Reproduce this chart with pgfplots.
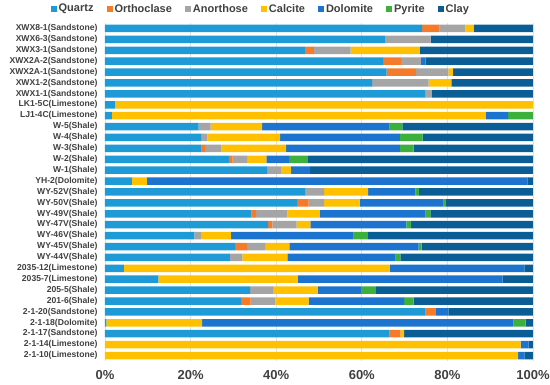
\documentclass[border=0pt]{standalone}
\usepackage{fontspec}
\setmainfont{Liberation Sans}
\usepackage{pgfplots}
\usepackage{pgfplotstable}
\pgfplotsset{compat=1.18}
\definecolor{cQ}{HTML}{1E9BD7}
\definecolor{cO}{HTML}{F47B2A}
\definecolor{cA}{HTML}{A5A5A5}
\definecolor{cC}{HTML}{FFC000}
\definecolor{cD}{HTML}{1C74CF}
\definecolor{cP}{HTML}{3CAF3C}
\definecolor{cL}{HTML}{0B5D96}
\definecolor{txt}{HTML}{404040}
\pgfplotstableread{
idx Q O A C D P L
0 74.1 4.1 6.0 2.0 0 0 13.8
1 65.4 0 10.7 0 0 0 23.9
2 46.7 2.1 8.6 16.1 0 0 26.5
3 65.0 4.2 4.6 0 1.1 0 25.1
4 65.8 6.9 7.5 1.1 0 0 18.7
5 62.4 0 13.2 5.3 0 0 19.1
6 74.9 0 1.5 0 0 0 23.6
7 2.3 0 0 97.7 0 0 0
8 1.6 0 0 87.4 5.2 5.8 0
9 21.9 0 2.8 12.0 29.8 3.0 30.5
10 22.6 0 1.3 17.0 28.0 5.3 25.8
11 22.6 0.8 3.8 15.1 26.6 3.2 27.9
12 29.0 0.8 3.4 4.5 5.3 4.4 52.6
13 37.9 0 3.2 2.3 4.5 0 52.1
14 6.3 0 0 3.5 88.9 0 1.3
15 46.9 0 4.3 10.3 11.0 0.9 26.6
16 44.9 2.7 3.6 8.3 19.6 0.4 20.5
17 34.2 1.1 7.3 7.6 24.7 1.1 24.0
18 38.1 1.0 5.7 3.2 22.4 1.1 28.5
19 20.9 0 1.7 6.8 28.7 3.3 38.6
20 30.4 2.8 4.2 5.7 30.2 0.7 26.0
21 29.2 0 2.9 10.5 25.3 1.1 31.0
22 4.4 0 0 62.1 31.5 0 2.0
23 12.5 0 0 32.5 47.9 0 7.1
24 33.9 0 5.4 10.4 10.1 3.5 36.7
25 31.8 2.2 5.8 7.8 22.3 2.2 27.9
26 74.9 2.3 0 0 3.0 0 19.8
27 0.3 0 0 22.4 72.7 2.9 1.7
28 66.5 2.5 0 0.9 0 0 30.1
29 0 0 0 97.1 1.9 0 1.0
30 0 0 0 96.5 1.5 0 2.0
}\datatable
\begin{document}
\begin{tikzpicture}
\begin{axis}[
  at={(0pt,0pt)}, anchor=south west,
  scale only axis, width=428pt, height=338pt,
  xbar stacked, bar width=7.5pt,
  xmin=0, xmax=100, ymin=-0.5, ymax=30.5,
  y dir=reverse,
  axis line style={draw=none},
  major tick length=0pt,
  xtick={0,20,40,60,80,100},
  xticklabels={0\%,20\%,40\%,60\%,80\%,100\%},
  xmajorgrids, grid style={draw=black!12, line width=0.6pt},
  ytick={0,...,30},
  yticklabels={XWX8-1(Sandstone),XWX6-3(Sandstone),XWX3-1(Sandstone),XWX2A-2(Sandstone),XWX2A-1(Sandstone),XWX1-2(Sandstone),XWX1-1(Sandstone),LK1-5C(Limestone),LJ1-4C(Limestone),W-5(Shale),W-4(Shale),W-3(Shale),W-2(Shale),W-1(Shale),YH-2(Dolomite),WY-52V(Shale),WY-50V(Shale),WY-49V(Shale),WY-47V(Shale),WY-46V(Shale),WY-45V(Shale),WY-44V(Shale),2035-12(Limestone),2035-7(Limestone),205-5(Shale),201-6(Shale),2-1-20(Sandstone),2-1-18(Dolomite),2-1-17(Sandstone),2-1-14(Limestone),2-1-10(Limestone)},
  yticklabel style={font=\fontsize{8.6}{10}\selectfont\bfseries, text=txt, xshift=-4pt},
  xticklabel style={font=\fontsize{13}{15}\selectfont\bfseries, text=txt, yshift=-6pt},
  /pgf/number format/assume math mode=true,
  legend columns=-1,
  legend style={draw=none, fill=none, at={(axis description cs:0.364,1.042)}, anchor=center,
    font=\fontsize{11}{13}\selectfont\bfseries, text=txt,
    /tikz/every even column/.append style={column sep=11pt}, inner sep=0pt},
  legend image code/.code={\fill[#1] (0pt,-3pt) rectangle (6pt,3pt);},
  every axis plot/.append style={draw=none},
]
\addplot[fill=cQ] table[x=Q, y=idx] {\datatable};
\addplot[fill=cO] table[x=O, y=idx] {\datatable};
\addplot[fill=cA] table[x=A, y=idx] {\datatable};
\addplot[fill=cC] table[x=C, y=idx] {\datatable};
\addplot[fill=cD] table[x=D, y=idx] {\datatable};
\addplot[fill=cP] table[x=P, y=idx] {\datatable};
\addplot[fill=cL] table[x=L, y=idx] {\datatable};
\legend{Quartz,Orthoclase,Anorthose,Calcite,Dolomite,Pyrite,Clay}
\end{axis}
\pgfresetboundingbox
\useasboundingbox (-105pt,-24pt) rectangle (445pt,361pt);
\end{tikzpicture}
\end{document}
